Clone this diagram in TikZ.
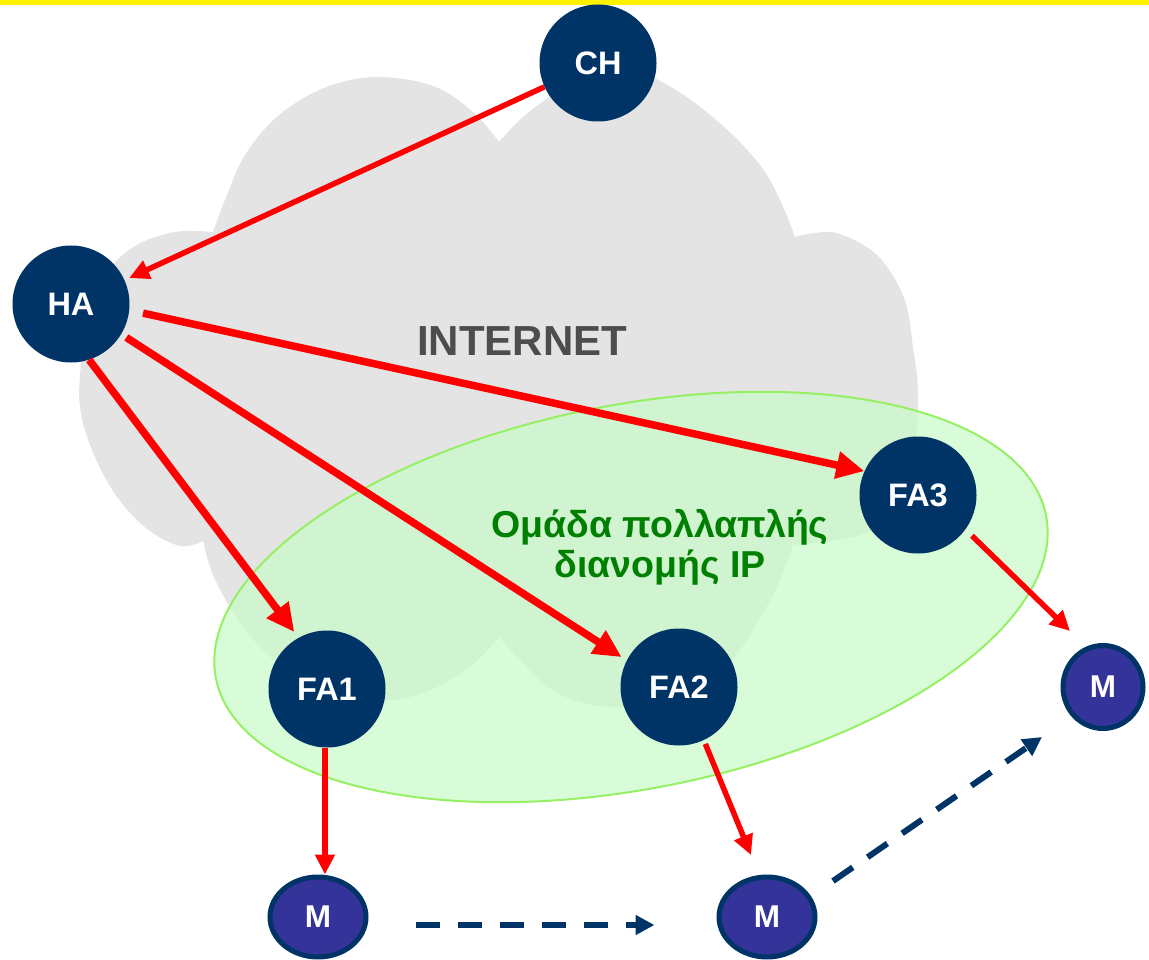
\documentclass[tikz,border=0pt]{standalone}
\usepackage{fontspec}
\setmainfont{Liberation Sans}
\usetikzlibrary{arrows.meta,shapes.geometric,calc}
\definecolor{navy}{RGB}{0,51,102}
\definecolor{mfill}{RGB}{51,51,153}
\definecolor{cloudgray}{RGB}{228,228,228}
\definecolor{grouptext}{RGB}{0,128,0}
\definecolor{groupfill}{RGB}{200,250,200}
\definecolor{groupline}{RGB}{150,240,100}
\definecolor{inettext}{RGB}{77,77,77}
\tikzset{
  agent/.style={circle, fill=navy, draw=none, minimum size=117pt, inner sep=0pt,
    text=white, font=\fontsize{32.5}{38}\selectfont\bfseries},
  mobile/.style={ellipse, fill=mfill, draw=navy, line width=5pt, minimum width=96pt,
    minimum height=80pt, inner sep=0pt, text=white, font=\fontsize{31.5}{36}\selectfont\bfseries},
  mobilesmall/.style={mobile, minimum width=80pt, minimum height=83pt},
  thickarrow/.style={draw=red, line width=7.5pt, -{Triangle[length=28pt,width=26pt]}},
  thinarrow/.style={draw=red, line width=5.5pt, -{Triangle[length=20pt,width=19pt]}},
  movearrow/.style={draw=navy, line width=6pt, dash pattern=on 24pt off 18pt,
    -{Triangle[length=19pt,width=19pt]}}
}
\begin{document}
\begin{tikzpicture}[x=1pt,y=-1pt]
\useasboundingbox (0,0) rectangle (1149,960);
\fill[yellow] (0,0) rectangle (1149,5);
% cloud
\fill[cloudgray]
  plot[smooth, tension=0.6] coordinates {(499,142) (473,112) (433,86) (376,77) (324,88) (278,116) (245,155) (225,200) (213,232)}
  -- plot[smooth, tension=0.6] coordinates {(213,232) (175,232) (135,246) (105,275) (88,320) (81,364) (80,407) (92,450) (115,494) (146,528) (180,546) (203,541)}
  -- plot[smooth, tension=0.6] coordinates {(203,541) (213,575) (235,615) (265,652) (305,682) (350,699) (395,700) (435,688) (472,665) (499,637)}
  -- plot[smooth, tension=0.6] coordinates {(499,637) (522,662) (552,690) (592,705) (632,707) (680,700) (715,680) (740,650) (760,618) (778,585) (793,545)}
  -- plot[smooth, tension=0.6] coordinates {(793,545) (850,538) (885,522) (906,490) (915,450) (918,393) (913,347) (904,298) (878,256) (840,234) (815,233) (795,237)}
  -- plot[smooth, tension=0.6] coordinates {(795,237) (780,200) (760,165) (722,125) (676,90) (632,70) (590,72) (552,95) (522,118) (499,142)}
  -- cycle;
\node[font=\fontsize{42}{48}\selectfont\bfseries, text=inettext] (inet) at (522,341) {INTERNET};
% multicast group ellipse
\filldraw[fill=groupfill, fill opacity=0.7, draw=groupline, line width=2pt]
  plot[domain=0:360, samples=180, smooth cycle, variable=\t]
  ({631+423*cos(\t)*cos(11.1)-192*sin(\t)*sin(11.1)}, {597-(423*cos(\t)*sin(11.1)+192*sin(\t)*cos(11.1))});
\node[font=\fontsize{37.5}{40}\selectfont\bfseries, text=grouptext, align=center] (grp) at (660,547)
  {Ομάδα πολλαπλής\\διανομής IP};
% nodes
\node[agent] (CH) at (598,63) {CH};
\node[agent] (HA) at (71,304) {HA};
\node[agent] (FA1) at (327,689) {FA1};
\node[agent] (FA2) at (679,687) {FA2};
\node[agent] (FA3) at (918,495) {FA3};
\node[mobile] (M1) at (318,917) {M};
\node[mobile] (M2) at (767,917) {M};
\node[mobilesmall] (M3) at (1103,687) {M};
\coordinate (t2) at (751,855);
\coordinate (t3) at (1070,631);
% arrows
\draw[thinarrow, shorten >=5pt] (CH.204) -- (HA.24);
\draw[thickarrow, shorten <=14pt] (HA.-6) -- (FA3.156);
\draw[thickarrow, shorten <=6pt, shorten >=6pt] (HA.-31) -- (FA2.153);
\draw[thickarrow, shorten >=7pt] (HA.-72) -- (FA1.119);
\draw[thinarrow] (FA1.-92) -- (FA1.-92 |- M1.north);
\draw[thinarrow, shorten <=4pt] (FA2.-65) -- (t2);
\draw[thinarrow, shorten <=9pt] (FA3.-36) -- (t3);
\draw[movearrow] ([shift={(47,8)}]M1.east) -- ([shift={(-62,8)}]M2.west);
\draw[movearrow] ([shift={(66,-36)}]M2.center) -- ([shift={(-61,50)}]M3.center);
\end{tikzpicture}
\end{document}
